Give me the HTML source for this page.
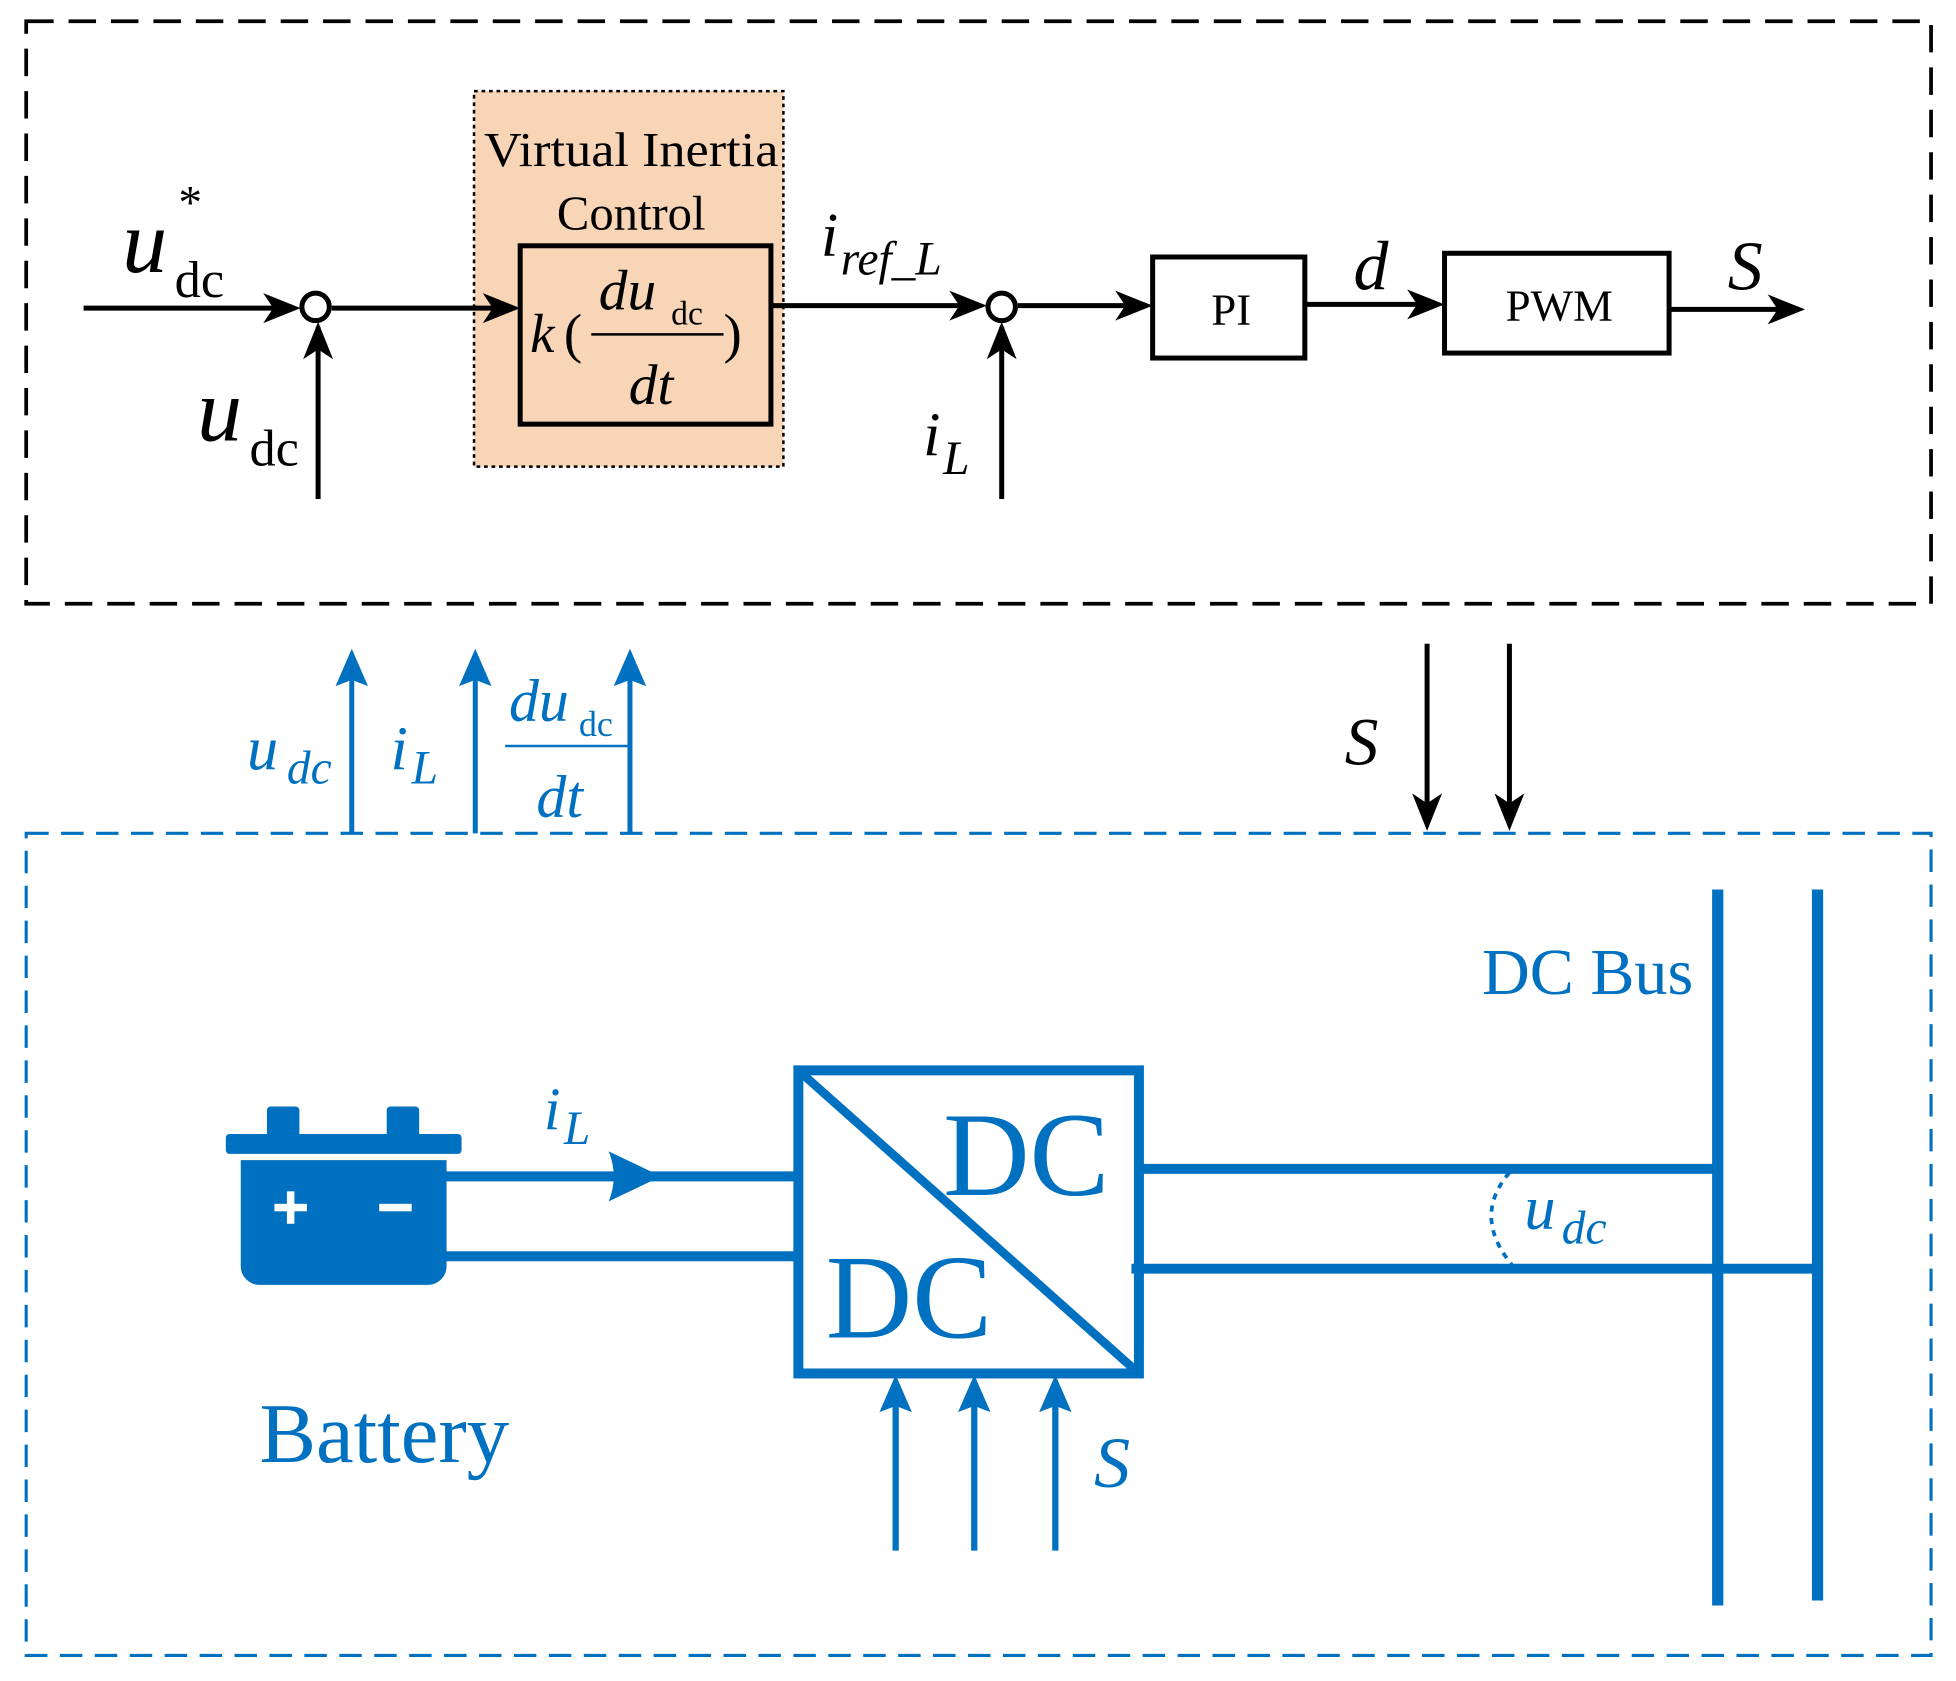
<!DOCTYPE html>
<html><head><meta charset="utf-8"><style>html,body{margin:0;padding:0;background:#fff}svg{display:block}</style></head>
<body>
<svg width="1956" height="1681" viewBox="0 0 1568 1347.5" xmlns="http://www.w3.org/2000/svg" font-family="Liberation Serif, serif">
<!-- top black dashed frame -->
<rect x="21" y="17" width="1527" height="467" fill="none" stroke="#000" stroke-width="3" stroke-dasharray="22,12"/>
<!-- orange box -->
<rect x="380" y="73" width="248" height="301" fill="#f9d5b7" stroke="#000" stroke-width="2" stroke-dasharray="3,3"/>
<text x="506" y="133" font-size="39" text-anchor="middle" textLength="236" lengthAdjust="spacingAndGlyphs">Virtual Inertia</text>
<text x="506" y="184" font-size="39" text-anchor="middle">Control</text>
<rect x="417" y="197" width="201" height="143" fill="none" stroke="#000" stroke-width="4"/>
<text x="425" y="282" font-size="44" font-style="italic">k</text>
<text x="452" y="282" font-size="44">(</text>
<text x="480" y="248" font-size="46" font-style="italic">du</text>
<text x="538" y="260" font-size="27">dc</text>
<line x1="474" y1="268" x2="580" y2="268" stroke="#000" stroke-width="2"/>
<text x="504" y="324" font-size="46" font-style="italic">dt</text>
<text x="580" y="282" font-size="44">)</text>
<!-- lines and arrows, black -->
<g stroke="#000" stroke-width="4" fill="none">
<path d="M67,247 H236"/><path d="M266,247 H411"/><path d="M618,245 H786"/><path d="M816,245 H918"/><path d="M1046,244 H1152"/><path d="M1338,248 H1440"/>
<path d="M255,400 V262"/><path d="M803,400 V262"/>
<path d="M1144,516 V660"/><path d="M1210,516 V660"/>
</g>
<g fill="#000">
<path d="M241,247 l-30,-12 l8,12 l-8,12 z"/><path d="M417,247 l-30,-12 l8,12 l-8,12 z"/><path d="M791,245 l-30,-12 l8,12 l-8,12 z"/><path d="M924,245 l-30,-12 l8,12 l-8,12 z"/><path d="M1158,244 l-30,-12 l8,12 l-8,12 z"/><path d="M1447,248 l-30,-12 l8,12 l-8,12 z"/>
<path d="M255,258 l-12,30 l12,-8 l12,8 z"/><path d="M803,258 l-12,30 l12,-8 l12,8 z"/>
<path d="M1144,666 l-12,-30 l12,8 l12,-8 z"/><path d="M1210,666 l-12,-30 l12,8 l12,-8 z"/>
</g>
<circle cx="253" cy="246" r="11" fill="#fff" stroke="#000" stroke-width="4"/>
<circle cx="803" cy="246" r="11" fill="#fff" stroke="#000" stroke-width="4"/>
<rect x="924" y="206" width="122" height="81" fill="none" stroke="#000" stroke-width="4"/>
<text x="987" y="260" font-size="36" text-anchor="middle">PI</text>
<rect x="1158" y="203" width="180" height="80" fill="none" stroke="#000" stroke-width="4"/>
<text x="1250" y="257" font-size="36" text-anchor="middle">PWM</text>
<text x="98" y="218" font-size="72" font-style="italic">u</text>
<text x="140" y="238" font-size="42">dc</text>
<text x="143" y="175" font-size="38">*</text>
<text x="158" y="353" font-size="72" font-style="italic">u</text>
<text x="200" y="373" font-size="42">dc</text>
<text x="658" y="205" font-size="50" font-style="italic">i</text>
<text x="674" y="220" font-size="38" font-style="italic">ref_L</text>
<text x="740" y="365" font-size="50" font-style="italic">i</text>
<text x="756" y="380" font-size="38" font-style="italic">L</text>
<text x="1085" y="232" font-size="56" font-style="italic">d</text>
<text x="1385" y="232" font-size="56" font-style="italic">S</text>
<text x="1078" y="613" font-size="54" font-style="italic">S</text>
<!-- blue -->
<g fill="#0070c0" stroke="none">
<text x="198" y="617" font-size="50" font-style="italic">u</text>
<text x="230" y="628" font-size="38" font-style="italic">dc</text>
<text x="313" y="617" font-size="50" font-style="italic">i</text>
<text x="330" y="628" font-size="38" font-style="italic">L</text>
<text x="408" y="578" font-size="48" font-style="italic">du</text>
<text x="464" y="590" font-size="29">dc</text>
<text x="430" y="655" font-size="48" font-style="italic">dt</text>
<text x="1188" y="797" font-size="53">DC Bus</text>
<text x="756" y="958" font-size="96">DC</text>
<text x="662" y="1072" font-size="96">DC</text>
<text x="208" y="1172" font-size="68">Battery</text>
<text x="436" y="905" font-size="48" font-style="italic">i</text>
<text x="452" y="917" font-size="38" font-style="italic">L</text>
<text x="1222" y="985" font-size="50" font-style="italic">u</text>
<text x="1252" y="997" font-size="38" font-style="italic">dc</text>
<text x="877" y="1192" font-size="58" font-style="italic">S</text>
<path d="M282,520 l-13,30 l13,-5 l13,5 z"/><path d="M381,520 l-13,30 l13,-5 l13,5 z"/><path d="M505,520 l-13,30 l13,-5 l13,5 z"/>
<path d="M718,1102 l-13,30 l13,-5 l13,5 z"/><path d="M781,1102 l-13,30 l13,-5 l13,5 z"/><path d="M846,1102 l-13,30 l13,-5 l13,5 z"/>
<path d="M530,943 l-42,-20 q8,20 0,40 z"/>
<!-- battery -->
<rect x="181" y="909" width="189" height="16" rx="3"/>
<rect x="214" y="887" width="26" height="25" rx="3"/><rect x="310" y="887" width="26" height="25" rx="3"/>
<path d="M193,930 H358 V1015 a15,15 0 0 1 -15,15 H208 a15,15 0 0 1 -15,-15 z"/>
</g>
<g fill="#fff"><rect x="220" y="965" width="26" height="6"/><rect x="230" y="955" width="6" height="26"/><rect x="304" y="965" width="26" height="6"/></g>
<g stroke="#0070c0" fill="none">
<rect x="21" y="668" width="1527" height="659" stroke-width="2.5" stroke-dasharray="18,10"/>
<path d="M282,668 V540 M381,668 V540 M505,668 V540" stroke-width="4"/>
<path d="M405,598 H503" stroke-width="2"/>
<path d="M718,1243 V1122 M781,1243 V1122 M846,1243 V1122" stroke-width="5"/>
<rect x="640" y="858" width="273" height="243" stroke-width="8"/>
<path d="M640,858 L913,1101" stroke-width="7"/>
<path d="M357,943 H640 M357,1007 H640 M913,937 H1377 M907,1017 H1457" stroke-width="8"/>
<path d="M1377,713 V1287 M1457,713 V1283" stroke-width="9"/>
<path d="M1210,940 Q1180,975 1212,1014" stroke-width="3" stroke-dasharray="5,5"/>
</g>
</svg>
</body></html>
